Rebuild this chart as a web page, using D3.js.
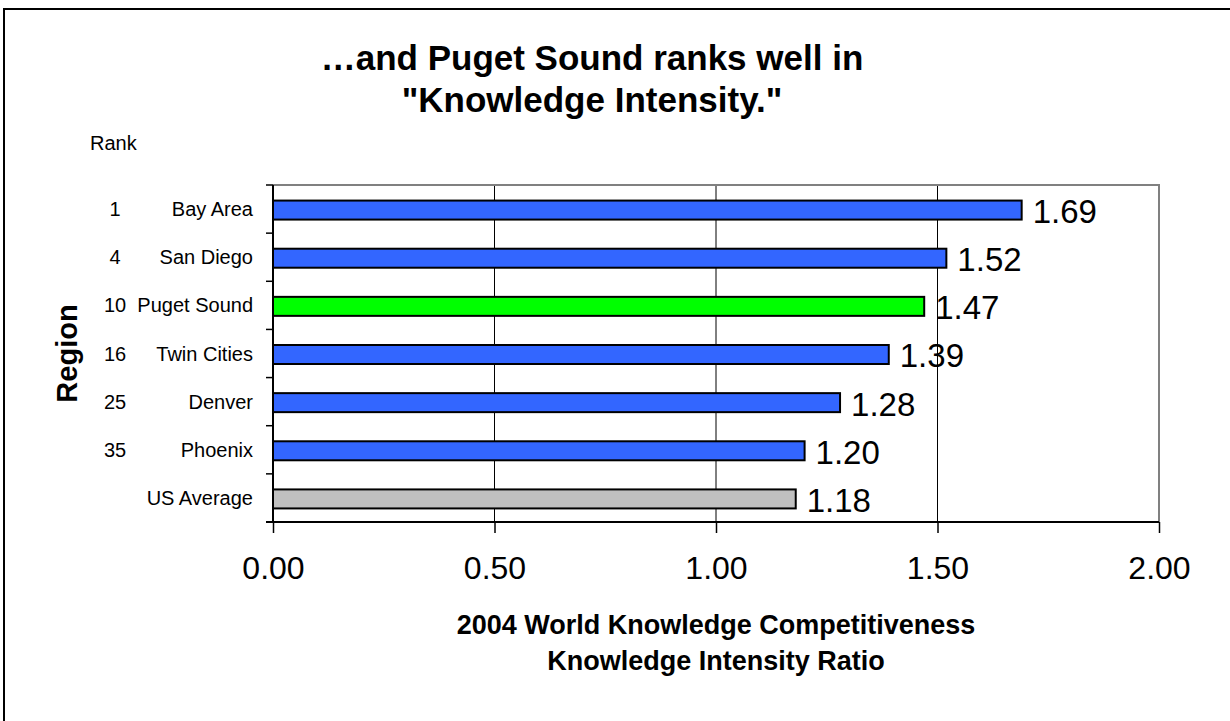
<!DOCTYPE html>
<html>
<head>
<meta charset="utf-8">
<script src="https://cdn.jsdelivr.net/npm/d3@7"></script>
<style>
  body { margin: 0; background: #fff; }
  text { font-family: "Liberation Sans", Arial, sans-serif; fill: #000; }
</style>
</head>
<body>
<script>
// chart data
const regions = ["Bay Area", "San Diego", "Puget Sound", "Twin Cities", "Denver", "Phoenix", "US Average"];
const ranks = ["1", "4", "10", "16", "25", "35", ""];
const ratios = [1.69, 1.52, 1.47, 1.39, 1.28, 1.20, 1.18];
const barColors = ["#3366FF", "#3366FF", "#00FF00", "#3366FF", "#3366FF", "#3366FF", "#C0C0C0"];
const xTicks = [0, 0.5, 1.0, 1.5, 2.0];

const width = 1230, height = 721;
const plot = {left: 273, right: 1159, top: 185, bottom: 522};
const barHeight = 19;

const svg = d3.select("body").append("svg")
    .attr("width", width)
    .attr("height", height);

// outer frame (runs off the right / bottom edge like the original)
svg.append("rect")
    .attr("x", 4).attr("y", 9)
    .attr("width", width + 20).attr("height", height + 20)
    .attr("fill", "none")
    .attr("stroke", "#000")
    .attr("stroke-width", 2);

const x = d3.scaleLinear().domain([0, 2]).range([plot.left, plot.right]);
const y = d3.scaleBand().domain(regions).range([plot.top, plot.bottom]);

//Title
const title = svg.append("text")
    .attr("text-anchor", "middle")
    .attr("font-weight", "bold")
    .attr("font-size", 35);
title.append("tspan").attr("x", 592).attr("y", 70).text("\u2026and Puget Sound ranks well in");
title.append("tspan").attr("x", 592).attr("y", 112).text("\"Knowledge Intensity.\"");

svg.append("text")
    .attr("x", 90).attr("y", 150)
    .attr("font-size", 20)
    .text("Rank");

//Gridlines
svg.append("g").selectAll("line")
    .data(xTicks.filter(d => d > 0 && d < 2))
    .join("line")
    .attr("x1", d => x(d)).attr("x2", d => x(d))
    .attr("y1", plot.top).attr("y2", plot.bottom)
    .attr("stroke", "#000")
    .attr("stroke-width", 1);

// top/right border of the plot area in grey
svg.append("path")
    .attr("d", `M ${plot.left},${plot.top} H ${plot.right} V ${plot.bottom}`)
    .attr("fill", "none")
    .attr("stroke", "#808080")
    .attr("stroke-width", 2);

//Bars
svg.append("g").selectAll("rect")
    .data(regions)
    .join("rect")
    .attr("x", x(0))
    .attr("y", d => y(d) + y.bandwidth() / 2 - barHeight / 2 + 1)
    .attr("width", (d, i) => x(ratios[i]) - x(0))
    .attr("height", barHeight)
    .attr("fill", (d, i) => barColors[i])
    .attr("stroke", "#000")
    .attr("stroke-width", 2);

//Value labels
svg.append("g").selectAll("text")
    .data(regions)
    .join("text")
    .attr("x", (d, i) => x(ratios[i]) + 11)
    .attr("y", d => y(d) + y.bandwidth() / 2 + 2)
    .attr("dy", "0.36em")
    .attr("font-size", 33)
    .text((d, i) => ratios[i].toFixed(2));

// y axis: line plus ticks between categories
const yAxis = svg.append("g");
yAxis.append("line")
    .attr("x1", plot.left).attr("x2", plot.left)
    .attr("y1", plot.top).attr("y2", plot.bottom)
    .attr("stroke", "#000").attr("stroke-width", 2);
yAxis.selectAll("line.tick")
    .data(regions.map(d => y(d)).concat([plot.bottom]))
    .join("line").classed("tick", true)
    .attr("x1", plot.left - 7).attr("x2", plot.left)
    .attr("y1", d => d).attr("y2", d => d)
    .attr("stroke", "#000").attr("stroke-width", 1.5);

// category names and ranks
yAxis.selectAll("text.name")
    .data(regions)
    .join("text").classed("name", true)
    .attr("x", 253)
    .attr("y", d => y(d) + y.bandwidth() / 2)
    .attr("dy", "0.35em")
    .attr("text-anchor", "end")
    .attr("font-size", 20)
    .text(d => d);
yAxis.selectAll("text.rank")
    .data(ranks)
    .join("text").classed("rank", true)
    .attr("x", 115)
    .attr("y", (d, i) => y(regions[i]) + y.bandwidth() / 2)
    .attr("dy", "0.35em")
    .attr("text-anchor", "middle")
    .attr("font-size", 20)
    .text(d => d);

// x axis
const xAxis = svg.append("g")
    .attr("transform", `translate(0,${plot.bottom})`)
    .call(d3.axisBottom(x).tickValues(xTicks).tickFormat(d3.format(".2f")).tickSize(11).tickPadding(23));
xAxis.select(".domain").remove();
xAxis.selectAll(".tick line").attr("stroke", "#000").attr("stroke-width", 1.5);
xAxis.selectAll(".tick text")
    .attr("font-size", 32)
    .attr("font-family", "Liberation Sans, Arial, sans-serif")
    .attr("fill", "#000");
xAxis.append("line")
    .attr("x1", plot.left - 7).attr("x2", plot.right)
    .attr("stroke", "#000").attr("stroke-width", 2);

// axis titles
const xTitle = svg.append("text")
    .attr("text-anchor", "middle")
    .attr("font-weight", "bold")
    .attr("font-size", 27);
xTitle.append("tspan").attr("x", (plot.left + plot.right) / 2).attr("y", 634)
    .text("2004 World Knowledge Competitiveness");
xTitle.append("tspan").attr("x", (plot.left + plot.right) / 2).attr("y", 670)
    .text("Knowledge Intensity Ratio");

svg.append("text")
    .attr("transform", `translate(77,${(plot.top + plot.bottom) / 2}) rotate(-90)`)
    .attr("text-anchor", "middle")
    .attr("font-weight", "bold")
    .attr("font-size", 29)
    .text("Region");
</script>
</body>
</html>
